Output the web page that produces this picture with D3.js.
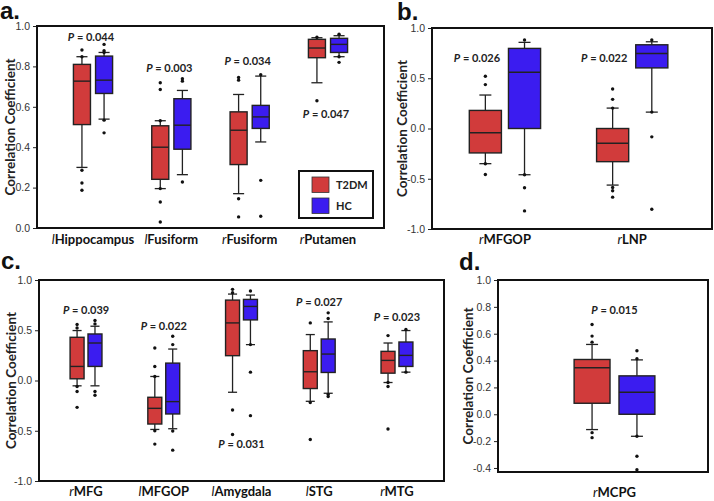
<!DOCTYPE html>
<html>
<head>
<meta charset="utf-8">
<script src="https://cdn.jsdelivr.net/npm/d3@7"></script>
<style>
  body { margin: 0; background: #fff; }
  svg { display: block; }
</style>
</head>
<body>
<div id="chart"></div>
<script>
// groups shown in every panel
const groups = ["T2DM", "HC"];
const groupColors = ["#d13b3b", "#3b1cf0"];

// box stats are [lower whisker, q1, median, q3, upper whisker]

// panel a
const catsA = ["lHippocampus", "lFusiform", "rFusiform", "rPutamen"];
const boxA_T2DM = [[0.30, 0.512, 0.727, 0.81, 0.848], [0.195, 0.241, 0.40, 0.506, 0.531], [0.17, 0.314, 0.484, 0.575, 0.661], [0.719, 0.843, 0.891, 0.934, 0.942]];
const boxA_HC = [[0.539, 0.666, 0.732, 0.851, 0.869], [0.264, 0.39, 0.509, 0.64, 0.681], [0.426, 0.493, 0.55, 0.607, 0.752], [0.848, 0.869, 0.909, 0.939, 0.952]];
const dotsA_T2DM = [[0.881, 0.848, 0.286, 0.223, 0.187], [0.719, 0.686, 0.531, 0.195, 0.129, 0.03], [0.745, 0.732, 0.145, 0.055], [0.944, 0.63]];
const dotsA_HC = [[0.909, 0.878, 0.869, 0.534, 0.471], [0.739, 0.727, 0.228], [0.759, 0.236, 0.058], [0.959, 0.848, 0.82]];
const pA = ["0.044", "0.003", "0.034", "0.047"];
const pYA = [0.947, 0.792, 0.826, 0.564];
const ticksA = [0, 0.2, 0.4, 0.6, 0.8, 1.0];

// panel b
const catsB = ["rMFGOP", "rLNP"];
const boxB_T2DM = [[-0.35, -0.243, -0.043, 0.18, 0.333], [-0.563, -0.33, -0.147, 0.0, 0.203]];
const boxB_HC = [[-0.46, 0.0, 0.56, 0.797, 0.857], [0.163, 0.603, 0.747, 0.833, 0.863]];
const dotsB_T2DM = [[0.52, 0.437, -0.35, -0.457], [0.393, 0.29, 0.203, -0.587, -0.62, -0.683]];
const dotsB_HC = [[0.88, -0.46, -0.59, -0.82], [0.88, 0.163, -0.083, -0.803]];
const pB = ["0.026", "0.022"];
const pYB = [0.70, 0.70];
const ticksB = [-1.0, -0.5, 0.0, 0.5, 1.0];

// panel c
const catsC = ["rMFG", "lMFGOP", "lAmygdala", "lSTG", "rMTG"];
const boxC_T2DM = [[-0.053, 0.017, 0.14, 0.43, 0.497], [-0.487, -0.433, -0.277, -0.167, 0.04], [-0.117, 0.247, 0.573, 0.8, 0.86], [-0.207, -0.08, 0.087, 0.297, 0.457], [-0.02, 0.073, 0.2, 0.29, 0.373]];
const boxC_HC = [[-0.053, 0.14, 0.373, 0.463, 0.54], [-0.48, -0.333, -0.21, 0.173, 0.313], [0.357, 0.603, 0.737, 0.807, 0.85], [-0.127, 0.08, 0.263, 0.413, 0.583], [0.083, 0.14, 0.25, 0.383, 0.497]];
const dotsC_T2DM = [[0.557, 0.523, -0.06, -0.11, -0.267], [0.323, 0.14, 0.04, -0.5, -0.633], [0.907, 0.873, -0.293, -0.537], [0.573, -0.22, -0.587], [0.447, -0.02, -0.06, -0.483]];
const dotsC_HC = [[0.597, 0.563, -0.11, -0.147], [0.44, 0.357, -0.503, -0.693], [0.89, 0.357, 0.083, -0.35], [0.673, 0.617, -0.14, -0.16], [0.507, 0.083]];
const pC = ["0.039", "0.022", "0.031", "0.027", "0.023"];
const pYC = [0.697, 0.54, -0.637, 0.783, 0.63];
const ticksC = [-1.0, -0.5, 0.0, 0.5, 1.0];

// panel d
const catsD = ["rMCPG"];
const boxD_T2DM = [[-0.114, 0.082, 0.346, 0.408, 0.52]];
const boxD_HC = [[-0.164, 0.0, 0.164, 0.286, 0.405]];
const dotsD_T2DM = [[0.669, 0.582, 0.537, -0.137, -0.174]];
const dotsD_HC = [[0.473, 0.413, -0.164, -0.313, -0.413]];
const pD = ["0.015"];
const pYD = [0.776];
const ticksD = [-0.4, -0.2, 0.0, 0.2, 0.4, 0.6, 0.8, 1.0];

const width = 714, height = 501;
const labelFont = "Lato, 'Open Sans', sans-serif";

const svg = d3.select("#chart").append("svg")
    .attr("width", width)
    .attr("height", height);

function drawPanel(cfg) {
  const g = svg.append("g");

  const y = d3.scaleLinear().domain(cfg.domain).range([cfg.y1, cfg.y0]);
  const x = d3.scaleBand()
      .domain(cfg.cats)
      .range([cfg.x0, cfg.x1])
      .paddingInner(cfg.pi)
      .paddingOuter(cfg.po)
      .align(cfg.align);
  const xg = d3.scaleBand().domain(groups).range([0, x.bandwidth()]).paddingInner(cfg.inner);
  const bw = xg.bandwidth();
  const cap = Math.min(bw * 0.65, 12);

  // y axis, ticks outside the frame
  const ax = g.append("g")
      .attr("transform", `translate(${cfg.x0},0)`)
      .call(d3.axisLeft(y).tickValues(cfg.ticks).tickFormat(d => d.toFixed(1)).tickSize(4).tickPadding(3));
  ax.select(".domain").remove();
  ax.selectAll("line").attr("stroke", "#222");
  ax.selectAll("text")
      .attr("fill", "#333")
      .style("font-family", "'Liberation Sans', Arial, sans-serif")
      .style("font-size", "10.5px");

  // y title
  g.append("text")
      .attr("transform", `translate(${cfg.x0 - cfg.titleOff},${(cfg.y0 + cfg.y1) / 2}) rotate(-90)`)
      .attr("text-anchor", "middle")
      .attr("dy", "0.35em")
      .style("font-family", labelFont)
      .style("font-weight", "bold")
      .style("font-size", "13.5px")
      .attr("fill", "#222")
      .text("Correlation Coefficient");

  // boxes
  groups.forEach((grp, gi) => {
    cfg.boxes[gi].forEach((s, ci) => {
      const left = x(cfg.cats[ci]) + xg(grp);
      const cx = left + bw / 2;
      const bg = g.append("g");
      // whiskers
      bg.append("line").attr("x1", cx).attr("x2", cx).attr("y1", y(s[3])).attr("y2", y(s[4]));
      bg.append("line").attr("x1", cx).attr("x2", cx).attr("y1", y(s[1])).attr("y2", y(s[0]));
      bg.append("line").attr("x1", cx - cap / 2).attr("x2", cx + cap / 2).attr("y1", y(s[4])).attr("y2", y(s[4]));
      bg.append("line").attr("x1", cx - cap / 2).attr("x2", cx + cap / 2).attr("y1", y(s[0])).attr("y2", y(s[0]));
      bg.selectAll("line").attr("stroke", "#222").attr("stroke-width", 1.3);
      bg.append("rect")
          .attr("x", left).attr("width", bw)
          .attr("y", y(s[3])).attr("height", y(s[1]) - y(s[3]))
          .attr("fill", groupColors[gi])
          .attr("stroke", "#222").attr("stroke-width", 1.4);
      bg.append("line")
          .attr("x1", left).attr("x2", left + bw)
          .attr("y1", y(s[2])).attr("y2", y(s[2]))
          .attr("stroke", "#222").attr("stroke-width", 1.4);
      bg.selectAll("circle")
          .data(cfg.dots[gi][ci])
          .enter().append("circle")
          .attr("cx", cx)
          .attr("cy", d => y(d))
          .attr("r", 1.7)
          .attr("fill", "#111");
    });
  });

  // p values
  cfg.cats.forEach((c, ci) => {
    const t = g.append("text")
        .attr("x", x(c) + x.bandwidth() / 2 + cfg.pShift)
        .attr("y", y(cfg.pY[ci]))
        .attr("dy", "0.35em")
        .attr("text-anchor", "middle")
        .style("font-family", labelFont)
        .style("font-weight", "bold")
        .style("font-size", "11px")
        .attr("fill", "#222");
    t.append("tspan").style("font-style", "italic").text("P");
    t.append("tspan").text(" = " + cfg.p[ci]);
  });

  // category labels, first letter is the side (l / r) in italics
  cfg.cats.forEach(c => {
    const t = g.append("text")
        .attr("x", x(c) + x.bandwidth() / 2)
        .attr("y", cfg.y1 + cfg.labelOff)
        .attr("text-anchor", "middle")
        .style("font-family", labelFont)
        .style("font-weight", "bold")
        .style("font-size", "13px")
        .attr("fill", "#111");
    t.append("tspan").style("font-style", "italic").style("font-weight", "normal").text(c[0]);
    t.append("tspan").text(c.slice(1));
  });

  // frame on top
  g.append("rect")
      .attr("x", cfg.x0).attr("y", cfg.y0)
      .attr("width", cfg.x1 - cfg.x0).attr("height", cfg.y1 - cfg.y0)
      .attr("fill", "none")
      .attr("stroke", "#111")
      .attr("stroke-width", 2);

  // panel letter
  svg.append("text")
      .attr("x", cfg.letterX).attr("y", cfg.letterY)
      .style("font-family", "'Liberation Sans', Arial, sans-serif")
      .style("font-weight", "bold")
      .style("font-size", "24px")
      .attr("fill", "#111")
      .text(cfg.letter);

  return {x, y};
}

drawPanel({letter: "a.", letterX: 0, letterY: 19, cats: catsA, boxes: [boxA_T2DM, boxA_HC], dots: [dotsA_T2DM, dotsA_HC],
  p: pA, pY: pYA, pShift: -2, ticks: ticksA, domain: [0, 1],
  x0: 37, x1: 384, y0: 26, y1: 228, pi: 0.5, po: 0.465, align: 0.5, inner: 0.23, labelOff: 16, titleOff: 27});

drawPanel({letter: "b.", letterX: 397, letterY: 20, cats: catsB, boxes: [boxB_T2DM, boxB_HC], dots: [dotsB_T2DM, dotsB_HC],
  p: pB, pY: pYB, pShift: -28, ticks: ticksB, domain: [-1, 1],
  x0: 432, x1: 712, y0: 28, y1: 229, pi: 0.44, po: 0.32, align: 0.458, inner: 0.18, labelOff: 15, titleOff: 30});

drawPanel({letter: "c.", letterX: 1, letterY: 269, cats: catsC, boxes: [boxC_T2DM, boxC_HC], dots: [dotsC_T2DM, dotsC_HC],
  p: pC, pY: pYC, pShift: 0, ticks: ticksC, domain: [-1, 1],
  x0: 39, x1: 444, y0: 280, y1: 481, pi: 0.59, po: 0.4, align: 0.5, inner: 0.22, labelOff: 15, titleOff: 28});

drawPanel({letter: "d.", letterX: 459, letterY: 270, cats: catsD, boxes: [boxD_T2DM, boxD_HC], dots: [dotsD_T2DM, dotsD_HC],
  p: pD, pY: pYD, pShift: 0, ticks: ticksD, domain: [-0.43, 1],
  x0: 498, x1: 708, y0: 280, y1: 472, pi: 0, po: 0.8, align: 0.589, inner: 0.2, labelOff: 25, titleOff: 30});

// legend inside panel a
const legend = svg.append("g").attr("transform", "translate(299,171)");
legend.append("rect").attr("width", 74).attr("height", 47)
    .attr("fill", "#fff").attr("stroke", "#111").attr("stroke-width", 2);
groups.forEach((grp, i) => {
  legend.append("rect")
      .attr("x", 13).attr("y", 6 + i * 21)
      .attr("width", 17).attr("height", 15.5)
      .attr("fill", groupColors[i])
      .attr("stroke", "#333").attr("stroke-width", 0.8);
  legend.append("text")
      .attr("x", 37).attr("y", 14 + i * 21)
      .attr("dy", "0.35em")
      .style("font-family", labelFont)
      .style("font-weight", "bold")
      .style("font-size", "11px")
      .attr("fill", "#222")
      .text(grp);
});
</script>
</body>
</html>
